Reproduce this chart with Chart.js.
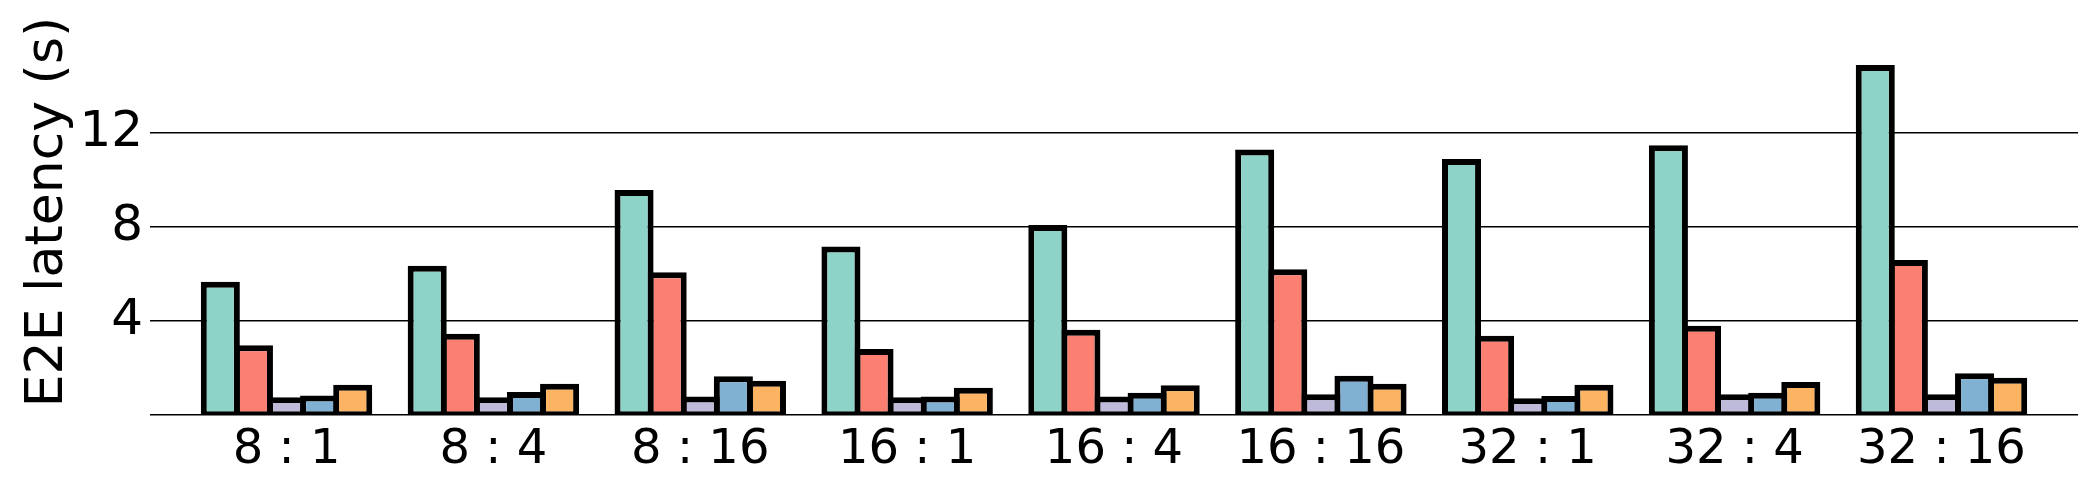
<!DOCTYPE html>
<html>
<head>
<meta charset="utf-8">
<script src="https://cdn.jsdelivr.net/npm/chart.js@4"></script>
<style>
  html, body { margin: 0; padding: 0; background: #fff; }
</style>
</head>
<body>
<canvas id="myChart" width="2100" height="495"></canvas>
<script>
// ratios on the x axis
const categories = ['8 : 1', '8 : 4', '8 : 16', '16 : 1', '16 : 4', '16 : 16', '32 : 1', '32 : 4', '32 : 16'];

// E2E latency (s), one array per bar colour
const seriesTeal   = [5.66, 6.35, 9.56, 7.16, 8.08, 11.29, 10.88, 11.47, 14.88];
const seriesRed    = [2.96, 3.45, 6.07, 2.81, 3.62, 6.20, 3.37, 3.79, 6.59];
const seriesPurple = [0.75, 0.75, 0.79, 0.75, 0.79, 0.88, 0.71, 0.88, 0.88];
const seriesBlue   = [0.83, 0.98, 1.65, 0.79, 0.95, 1.67, 0.81, 0.95, 1.78];
const seriesOrange = [1.29, 1.33, 1.46, 1.16, 1.27, 1.33, 1.29, 1.40, 1.58];

const yTicks = [0, 4, 8, 12];

const colors = ['#8dd3c7', '#fb8072', '#bebada', '#80b1d3', '#fdb462'];
const allSeries = [seriesTeal, seriesRed, seriesPurple, seriesBlue, seriesOrange];

const ctx = document.getElementById('myChart');
const font = 'DejaVu Sans';

new Chart(ctx, {
  type: 'bar',
  data: {
    datasets: allSeries.map((vals, i) => ({
      label: 'series ' + (i + 1),
      data: vals.map((v, j) => ({ x: j, y: v })),
      backgroundColor: colors[i],
      borderColor: '#000',
      borderWidth: { top: 6, left: 6, right: 6, bottom: 3 },
      borderSkipped: false,
      categoryPercentage: 0.8,
      barPercentage: 1.18   // bars overlap so neighbours share one edge
    }))
  },
  options: {
    responsive: false,
    animation: false,
    devicePixelRatio: 1,
    layout: { padding: { top: 9, right: 22, bottom: 0, left: 0 } },
    plugins: {
      legend: { display: false },
      tooltip: { enabled: false }
    },
    scales: {
      x: {
        type: 'linear',
        offset: false,
        min: -0.66,
        max: 8.66,
        grid: { display: false },
        border: { display: false },
        afterBuildTicks: s => { s.ticks = categories.map((_, i) => ({ value: i })); },
        afterFit: s => { s.height = 80; s.paddingLeft = 0; s.paddingRight = 0; },
        ticks: {
          color: '#000',
          padding: 4,
          maxRotation: 0,
          autoSkip: false,
          font: { family: font, size: 48, lineHeight: 1 },
          callback: v => categories[v]
        }
      },
      y: {
        min: 0,
        max: 17.26,
        border: { display: false },
        grid: { color: '#000', lineWidth: 1.5, drawTicks: false },
        afterBuildTicks: s => { s.ticks = yTicks.map(v => ({ value: v })); },
        afterFit: s => { s.width = 150; s.paddingTop = 0; s.paddingBottom = 0; },
        ticks: {
          color: '#000',
          padding: 7,
          font: { family: font, size: 50, lineHeight: 1 },
          callback: v => (v === 0 ? '' : v)
        },
        title: {
          display: true,
          text: 'E2E latency (s)',
          color: '#000',
          padding: { top: 22, bottom: 0 },
          font: { family: font, size: 52, lineHeight: 1 }
        }
      }
    }
  }
});
</script>
</body>
</html>
